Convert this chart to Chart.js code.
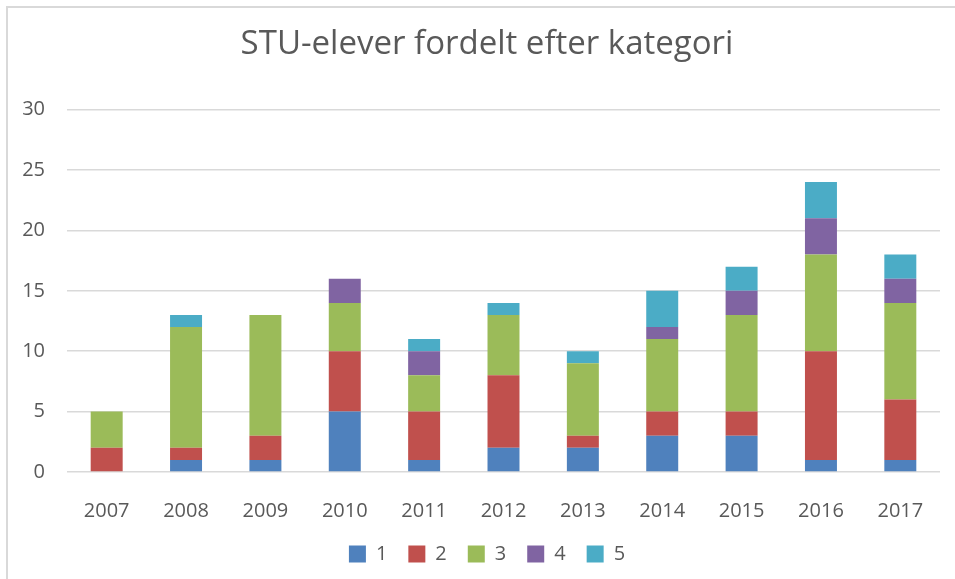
<!DOCTYPE html>
<html>
<head>
<meta charset="utf-8">
<script src="https://cdn.jsdelivr.net/npm/chart.js@4"></script>
<style>
  html, body { margin: 0; padding: 0; background: #ffffff; }
  #frame { position: absolute; left: 6px; top: 6px; width: 960px; height: 600px; border-top: 2px solid #d9d9d9; border-left: 2px solid #d9d9d9; }
  #wrap { position: absolute; left: 0; top: 0; width: 955px; height: 579px; }
</style>
</head>
<body>
<div id="frame"></div>
<div id="wrap"><canvas id="c" width="955" height="579"></canvas></div>
<script>
const years = ['2007','2008','2009','2010','2011','2012','2013','2014','2015','2016','2017'];
const seriesNames = ['1','2','3','4','5'];
const cat1 = [0, 1, 1, 5, 1, 2, 2, 3, 3, 1, 1];
const cat2 = [2, 1, 2, 5, 4, 6, 1, 2, 2, 9, 5];
const cat3 = [3, 10, 10, 4, 3, 5, 6, 6, 8, 8, 8];
const cat4 = [0, 0, 0, 2, 2, 0, 0, 1, 2, 3, 2];
const cat5 = [0, 1, 0, 0, 1, 1, 1, 3, 2, 3, 2];
const yTicks = [0, 5, 10, 15, 20, 25, 30];
const colors = ['#4F81BD', '#C0504D', '#9BBB59', '#8064A2', '#4BACC6'];
const allSeries = [cat1, cat2, cat3, cat4, cat5];

const textColor = '#595959';
const fontFamily = "'Open Sans', 'Liberation Sans', sans-serif";

// Centre title and legend over the whole frame rather than the padded box
const centerShift = {
  id: 'centerShift',
  afterLayout(chart) {
    const dx = 17;
    [chart.titleBlock, chart.legend].forEach(b => {
      if (b) { b.left += dx; b.right += dx; }
    });
  }
};

new Chart(document.getElementById('c'), {
  type: 'bar',
  data: {
    labels: years,
    datasets: allSeries.map((d, i) => ({
      label: seriesNames[i],
      data: d,
      backgroundColor: colors[i],
      borderWidth: 0,
      categoryPercentage: 1.0,
      barPercentage: 0.403
    }))
  },
  plugins: [centerShift],
  options: {
    responsive: false,
    animation: false,
    devicePixelRatio: 1,
    layout: { padding: { left: 0, right: 15, top: 0, bottom: 5 } },
    plugins: {
      title: {
        display: true,
        text: 'STU-elever fordelt efter kategori',
        color: textColor,
        font: { family: fontFamily, size: 33, weight: 'normal' },
        padding: { top: 25, bottom: 45 }
      },
      legend: {
        display: true,
        position: 'bottom',
        labels: {
          color: textColor,
          font: { family: fontFamily, size: 20 },
          boxWidth: 17,
          boxHeight: 17,
          padding: 21
        }
      },
      tooltip: { enabled: false }
    },
    scales: {
      x: {
        stacked: true,
        grid: { display: false, drawTicks: false },
        border: { display: false },
        afterFit: (scale) => { scale.height = scale.height - 27; },
        ticks: { color: textColor, font: { family: fontFamily, size: 20 }, padding: 27 }
      },
      y: {
        stacked: true,
        min: 0,
        max: 30,
        afterBuildTicks: (scale) => { scale.ticks = yTicks.map(v => ({ value: v })); },
        afterFit: (scale) => { scale.width = 67; },
        grid: { color: '#d9d9d9', lineWidth: 1.5, drawTicks: false },
        border: { display: false },
        ticks: { color: textColor, font: { family: fontFamily, size: 20 }, padding: 22 }
      }
    }
  }
});
</script>
</body>
</html>
